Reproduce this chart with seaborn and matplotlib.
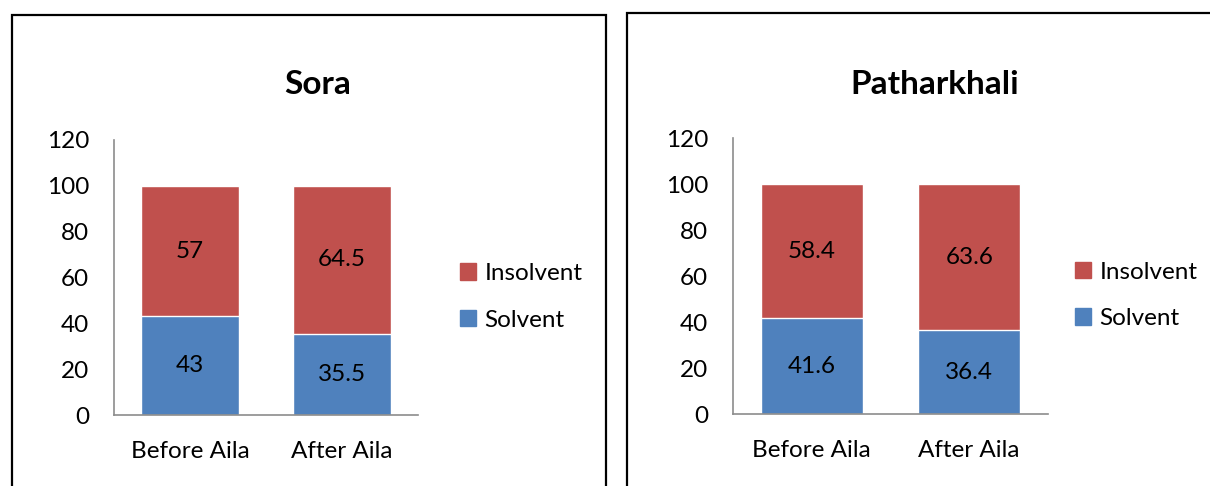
import matplotlib
matplotlib.use("Agg")
import matplotlib.pyplot as plt
from matplotlib.patches import Rectangle, Patch
import seaborn as sns
import pandas as pd

# data
periods = ["Before Aila", "After Aila"]
sora_solvent = [43, 35.5]
sora_insolvent = [57, 64.5]
path_solvent = [41.6, 36.4]
path_insolvent = [58.4, 63.6]
yticks = [0, 20, 40, 60, 80, 100, 120]

blue = "#4F81BD"
red = "#C0504D"

sns.set_theme(style="white")
plt.rcParams["font.family"] = ["Lato", "DejaVu Sans"]
plt.rcParams["text.color"] = "black"

fig = plt.figure(figsize=(12.1, 4.86), dpi=100)
W, H = 1210, 486
FS = 17.5


def frac(x0, y0, x1, y1):
    return [x0 / W, 1 - y1 / H, (x1 - x0) / W, (y1 - y0) / H]


def panel(ax, title, solvent, insolvent, tx, ty, legx):
    df = pd.DataFrame({"period": periods, "solvent": solvent, "insolvent": insolvent})
    df["total"] = df["solvent"] + df["insolvent"]
    sns.barplot(data=df, x="period", y="total", color=red, width=0.645,
                saturation=1, ax=ax)
    sns.barplot(data=df, x="period", y="solvent", color=blue, width=0.645,
                saturation=1, ax=ax)
    # value labels in the middle of each segment
    for i, (s, ins) in enumerate(zip(solvent, insolvent)):
        ax.text(i, s / 2, f"{s:g}", ha="center", va="center", fontsize=FS, color="black")
        ax.text(i, s + ins / 2, f"{ins:g}", ha="center", va="center", fontsize=FS,
                color="black")
    ax.set_ylim(0, 120)
    ax.set_xlim(-0.5, 1.5)
    ax.set_yticks(yticks)
    ax.set_xlabel("")
    ax.set_ylabel("")
    ax.tick_params(axis="both", length=0, labelsize=FS, colors="black")
    ax.tick_params(axis="y", pad=18)
    ax.tick_params(axis="x", pad=19)
    for side in ["top", "right"]:
        ax.spines[side].set_visible(False)
    for side in ["left", "bottom"]:
        ax.spines[side].set_color("#8c8c8c")
        ax.spines[side].set_linewidth(1.2)
    handles = [Patch(color=red, label="Insolvent"), Patch(color=blue, label="Solvent")]
    ax.legend(handles=handles, loc="center left", bbox_to_anchor=(legx, 0.43),
              frameon=False, fontsize=FS, handlelength=0.65, handleheight=0.65,
              handletextpad=0.35, labelspacing=1.05, borderpad=0, borderaxespad=0,
              labelcolor="black")
    fig.text(tx / W, 1 - ty / H, title, ha="center", va="center",
             fontsize=24, fontweight="bold", color="black")


ax1 = fig.add_axes(frac(114, 140, 418, 415))
panel(ax1, "Sora", sora_solvent, sora_insolvent, 318, 85, 1.138)

ax2 = fig.add_axes(frac(733, 138, 1048, 414))
panel(ax2, "Patharkhali", path_solvent, path_insolvent, 935, 84, 1.086)

# outer frames of the two chart boxes
for x0, y0, x1 in [(12, 15, 606), (627, 13, 1225)]:
    fig.patches.append(Rectangle((x0 / W, -0.1), (x1 - x0) / W, 1.1 - y0 / H,
                                 transform=fig.transFigure, fill=False,
                                 edgecolor="black", linewidth=1.6))

fig.savefig("out.png", dpi=100)
